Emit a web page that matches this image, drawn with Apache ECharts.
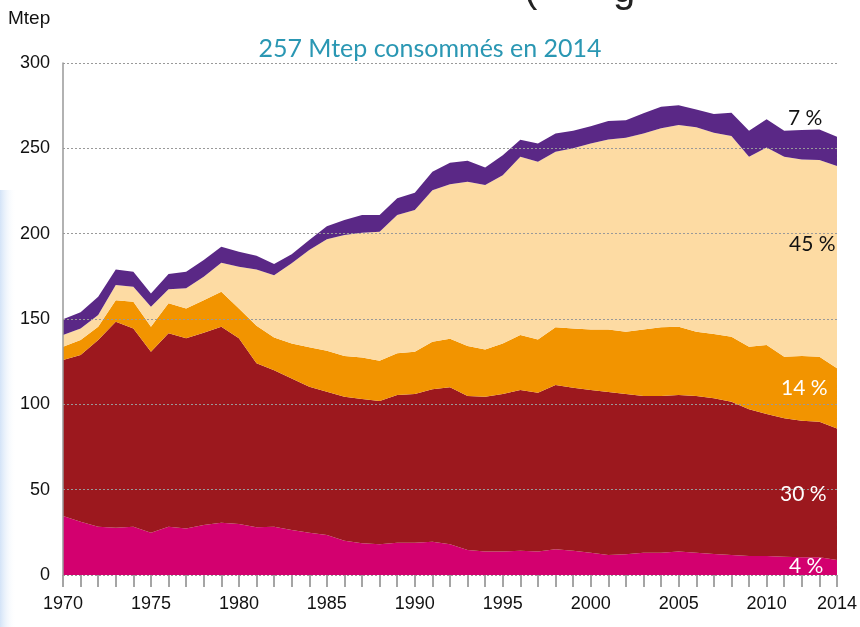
<!DOCTYPE html>
<html>
<head>
<meta charset="utf-8">
<script src="https://cdn.jsdelivr.net/npm/echarts@6/dist/echarts.min.js"></script>
<style>
  html, body { margin: 0; padding: 0; background: #fff; }
  #chart { width: 860px; height: 627px; }
</style>
</head>
<body>
<div id="chart"></div>
<script>
// années 1970 -> 2014
const years = [];
for (let y = 1970; y <= 2014; y++) years.push(String(y));

const yTicks = [0, 50, 100, 150, 200, 250, 300];

// Mtep (empilés de bas en haut)
const charbon = [34.6, 31.2, 28.3, 27.7, 28.3, 24.8, 28.3, 27.3, 29.3, 30.6, 29.9, 28, 28.3, 26.4, 24.8, 23.4, 20.1, 18.6, 18, 18.9, 18.9, 19.5, 18, 14.6, 13.7, 13.7, 14.2, 13.7, 15.1, 14.2, 13.1, 11.7, 12.1, 13.1, 13.1, 13.7, 13.1, 12.3, 11.7, 11.1, 11.1, 10.7, 10.4, 10.4, 8.8];
const petrole = [91.4, 97.7, 109.4, 120.7, 116.2, 106, 113.3, 111.4, 112.7, 114.9, 108.8, 96, 91.7, 88.8, 85.5, 84, 84.4, 84.5, 83.9, 86.5, 87.1, 89.3, 92, 90.3, 90.8, 92.3, 94.2, 93.1, 96.2, 95.5, 95.3, 95.5, 93.9, 91.8, 91.8, 91.7, 91.8, 91.2, 89.8, 86, 83.2, 81.1, 80, 79.4, 77.1];
const gaz = [7.7, 8.8, 7.8, 12.6, 15.6, 14.7, 17.6, 17.5, 19, 20.5, 17.5, 22, 19.2, 20.5, 23.1, 24, 23.8, 24.4, 23.6, 24.5, 24.8, 27.9, 28.5, 29.3, 27.7, 29.7, 32.2, 31.2, 33.8, 34.8, 35.5, 36.7, 36.5, 39, 40.2, 40.1, 37.6, 37.7, 38.1, 36.6, 40.4, 36.1, 37.9, 38.1, 35.2];
const electricite = [6.9, 6.8, 6.8, 8.9, 8.8, 11.7, 8.2, 11.8, 13.8, 17, 24.4, 33, 36.5, 46.9, 57, 65.3, 70.9, 73, 75.6, 81, 83, 88.8, 90.5, 96.2, 96.3, 98.6, 104.5, 104.1, 102.9, 105.5, 109, 111.3, 113.7, 114.8, 116.6, 118.1, 119.8, 117.9, 117.6, 111.4, 115.8, 117.2, 115.2, 115.2, 118.5];
const enr = [9.2, 9.5, 10.7, 9.1, 8.8, 7.8, 8.9, 9.7, 9.7, 9.3, 8.8, 8, 6.5, 5.4, 5.9, 7.7, 8.8, 10.4, 9.8, 9.8, 10.2, 10.8, 12.5, 12.3, 10.3, 11.7, 10, 10.8, 10.7, 10.3, 10.1, 10.8, 10.3, 11.8, 12.7, 11.7, 10.5, 11, 13.6, 15.2, 16.5, 15.2, 17.2, 18, 17.2];

const parts = ['4 %', '30 %', '14 %', '45 %', '7 %'];

const chart = echarts.init(document.getElementById('chart'));

const makeSeries = (name, data, color) => ({
  name: name,
  type: 'line',
  stack: 'total',
  data: data,
  symbol: 'none',
  lineStyle: { width: 0 },
  areaStyle: { color: color, opacity: 1 },
  itemStyle: { color: color }
});

const labelFont = 'Gill Sans, Lato, sans-serif';
const axisFont = 'Liberation Sans, Arial, sans-serif';

// étiquettes de part à droite
const partText = (txt, x, y, fill) => ({
  type: 'text', left: x, top: y, z: 100,
  style: { text: txt, fontSize: 21, fontFamily: labelFont, fill: fill }
});

const option = {
  animation: false,
  backgroundColor: '#fff',
  title: {
    text: '257 Mtep consommés en 2014',
    left: 'center',
    top: 31,
    textStyle: { color: '#2a97b3', fontSize: 25, fontWeight: 'normal', fontFamily: labelFont }
  },
  graphic: [
    {
      type: 'rect',
      left: 0, top: 190, z: -1,
      shape: { width: 16, height: 437 },
      style: {
        fill: new echarts.graphic.LinearGradient(0, 0, 1, 0, [
          { offset: 0, color: 'rgba(200,220,245,0.8)' },
          { offset: 1, color: 'rgba(255,255,255,0)' }
        ])
      }
    },
    // restes d'un texte coupé en haut de l'image
    { type: 'text', x: 524, y: -29, style: { text: '(', fontSize: 40, fontFamily: axisFont, fill: '#222' } },
    { type: 'text', x: 613, y: -29, style: { text: 'g', fontSize: 40, fontFamily: axisFont, fill: '#222' } },
    { type: 'text', left: 8, top: 9, style: { text: 'Mtep', fontSize: 19, fontFamily: axisFont, fill: '#111' } },
    partText(parts[4], 788, 108, '#111'),
    partText(parts[3], 789, 234, '#111'),
    partText(parts[2], 781, 378, '#fff'),
    partText(parts[1], 780, 484, '#fff'),
    partText(parts[0], 789, 556, '#fff')
  ],
  grid: { left: 63, right: 22, top: 63, bottom: 52, containLabel: false },
  xAxis: {
    type: 'category',
    data: years,
    boundaryGap: false,
    axisLine: { show: false },
    axisTick: { show: true, interval: 0, length: 12, lineStyle: { color: '#888', width: 1.5 } },
    axisLabel: {
      interval: 0,
      margin: 20,
      fontSize: 18,
      color: '#111',
      fontFamily: axisFont,
      formatter: (v) => (Number(v) % 5 === 0 || v === '2014') ? v : ''
    },
    splitLine: { show: false }
  },
  yAxis: {
    type: 'value',
    min: yTicks[0],
    max: yTicks[yTicks.length - 1],
    interval: 50,
    axisLine: { show: true, lineStyle: { color: '#999', width: 1.5 } },
    axisTick: { show: false },
    axisLabel: {
      margin: 13,
      fontSize: 18,
      color: '#111',
      fontFamily: axisFont
    },
    splitLine: { show: true, lineStyle: { color: '#999', type: [2, 2], width: 1 } },
    z: 10
  },
  series: [
    makeSeries('Charbon', charbon, '#d3006f'),
    makeSeries('Pétrole', petrole, '#9c181e'),
    makeSeries('Gaz', gaz, '#f29400'),
    makeSeries('Électricité primaire', electricite, '#fddba3'),
    makeSeries('EnR thermiques', enr, '#5a2886')
  ]
};

chart.setOption(option);
</script>
</body>
</html>
